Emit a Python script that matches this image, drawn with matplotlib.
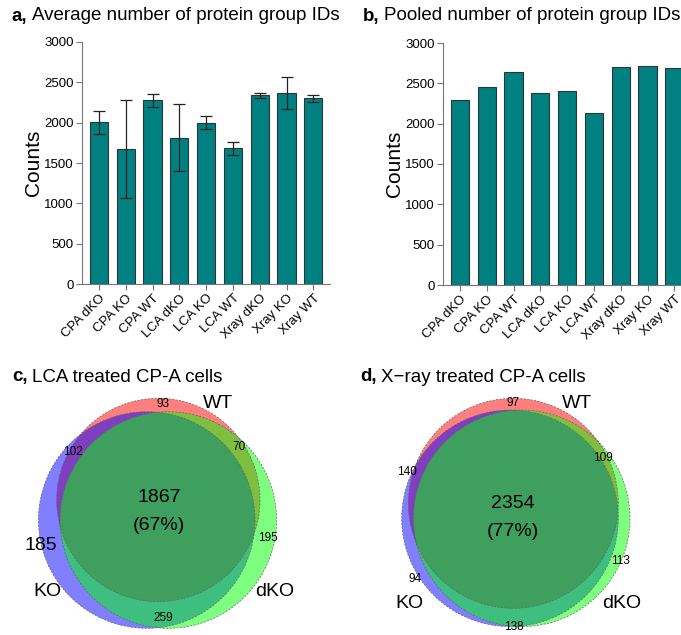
import numpy as np
import matplotlib
matplotlib.use("Agg")
import matplotlib.pyplot as plt
from matplotlib.patches import Circle

plt.rcParams['font.family'] = ['Liberation Sans', 'DejaVu Sans']

# bar chart data
groups = ["CPA dKO", "CPA KO", "CPA WT", "LCA dKO", "LCA KO", "LCA WT",
          "Xray dKO", "Xray KO", "Xray WT"]
avg_ids = [2005, 1670, 2275, 1815, 2000, 1685, 2340, 2365, 2300]
avg_err = [140, 610, 85, 420, 80, 80, 30, 200, 45]
pooled_ids = [2290, 2455, 2640, 2385, 2410, 2130, 2705, 2720, 2695]

# venn region counts
lca_counts = {"WT": 93, "WT_KO": 102, "WT_dKO": 70, "all": 1867, "all_pct": "67%",
              "KO": 185, "dKO": 195, "KO_dKO": 259}
xray_counts = {"WT": 97, "WT_KO": 140, "WT_dKO": 109, "all": 2354, "all_pct": "77%",
               "KO": 94, "dKO": 113, "KO_dKO": 138}

BAR_COLOR = "#008080"
W, H = 681, 635
fig = plt.figure(figsize=(W / 100, H / 100), dpi=100)


def px_axes(left, top, right, bottom):
    return fig.add_axes([left / W, 1 - bottom / H, (right - left) / W, (bottom - top) / H])


def bar_panel(ax, values, err=None):
    x = np.arange(len(groups))
    ax.bar(x, values, width=0.68, color=BAR_COLOR, edgecolor="#333333", linewidth=0.8, zorder=2)
    if err is not None:
        ax.errorbar(x, values, yerr=err, fmt="none", ecolor="#222222", elinewidth=0.9,
                    capsize=4, capthick=0.9, zorder=3)
    ax.set_xlim(-0.63, 8.62)
    ax.set_ylim(0, 3000)
    ax.set_yticks(range(0, 3001, 500))
    ax.set_xticks(x)
    ax.set_xticklabels(groups, rotation=45, ha="right", rotation_mode="anchor", fontsize=9.5)
    ax.tick_params(axis="y", labelsize=9.5, color="#777777", length=4, width=0.8, pad=2)
    ax.tick_params(axis="x", color="#777777", length=4, width=0.8, pad=2)
    for s in ["top", "right"]:
        ax.spines[s].set_visible(False)
    for s in ["left", "bottom"]:
        ax.spines[s].set_color("#777777")
        ax.spines[s].set_linewidth(0.8)
    ax.set_ylabel("Counts", fontsize=15, labelpad=1)


ax_a = px_axes(82, 42, 330, 284)
bar_panel(ax_a, avg_ids, avg_err)
ax_b = px_axes(443, 43, 691, 285)
bar_panel(ax_b, pooled_ids)

# venn panels drawn in pixel coordinates of the figure
ax_v = fig.add_axes([0, 0, 1, 1])
ax_v.set_xlim(0, W)
ax_v.set_ylim(H, 0)
ax_v.axis("off")


def panel_title(x, y, letter, text):
    t = ax_v.text(x, y, letter, fontsize=13.5, fontweight="bold", va="center", ha="left")
    ax_v.annotate(text, xy=(1, 0.5), xycoords=t, xytext=(3.5, 0), textcoords="offset points",
                  fontsize=13.5, va="center", ha="left", annotation_clip=False)


panel_title(12, 16, "a,", "Average number of protein group IDs")
panel_title(363, 16, "b,", "Pooled number of protein group IDs")
panel_title(12, 377, "c,", "LCA treated CP-A cells")
panel_title(360, 377, "d,", "X−ray treated CP-A cells")

venn_colors = [("WT", "#ff0000"), ("KO", "#0000ff"), ("dKO", "#00ff00")]

# circle layout (centre x, centre y, radius) per set
lca_layout = {"WT": (158.3, 500, 101.7), "KO": (146.7, 520, 108.3), "dKO": (168.3, 520, 108.3)}
xray_layout = {"WT": (513.3, 503.3, 105), "KO": (510, 518.3, 108.3), "dKO": (521.7, 518.3, 108.3)}

# label positions per region
lca_pos = {"WT": (163, 404), "WT_KO": (73, 452), "WT_dKO": (239, 447), "all": (159, 497),
           "KO": (41, 545), "dKO": (268, 538), "KO_dKO": (163, 618)}
xray_pos = {"WT": (513, 403), "WT_KO": (407, 472), "WT_dKO": (603, 458), "all": (513, 503),
            "KO": (415, 579), "dKO": (620, 561), "KO_dKO": (514, 627)}
lca_names = {"WT": (218, 404), "KO": (47, 592), "dKO": (275, 592)}
xray_names = {"WT": (577, 404), "KO": (409, 603), "dKO": (622, 603)}


def venn(layout, counts, pos, names, big_single):
    for name, col in venn_colors:
        cx, cy, r = layout[name]
        ax_v.add_patch(Circle((cx, cy), r, facecolor=col, alpha=0.5, edgecolor="none"))
    for name, col in venn_colors:
        cx, cy, r = layout[name]
        ax_v.add_patch(Circle((cx, cy), r, facecolor="none", edgecolor="#666666",
                              linewidth=0.5, linestyle=(0, (3, 2))))
    for key, (x, y) in pos.items():
        if key == "all":
            ax_v.text(x, y, str(counts["all"]), fontsize=14, ha="center", va="center")
            ax_v.text(x, y + 28, "(" + counts["all_pct"] + ")", fontsize=14,
                      ha="center", va="center")
        else:
            fs = 14 if key in big_single else 8.5
            ax_v.text(x, y, str(counts[key]), fontsize=fs, ha="center", va="center")
    for name, (x, y) in names.items():
        ax_v.text(x, y, name, fontsize=14, ha="center", va="center")


venn(lca_layout, lca_counts, lca_pos, lca_names, ["KO"])
venn(xray_layout, xray_counts, xray_pos, xray_names, [])

fig.savefig("out.png", dpi=100)
